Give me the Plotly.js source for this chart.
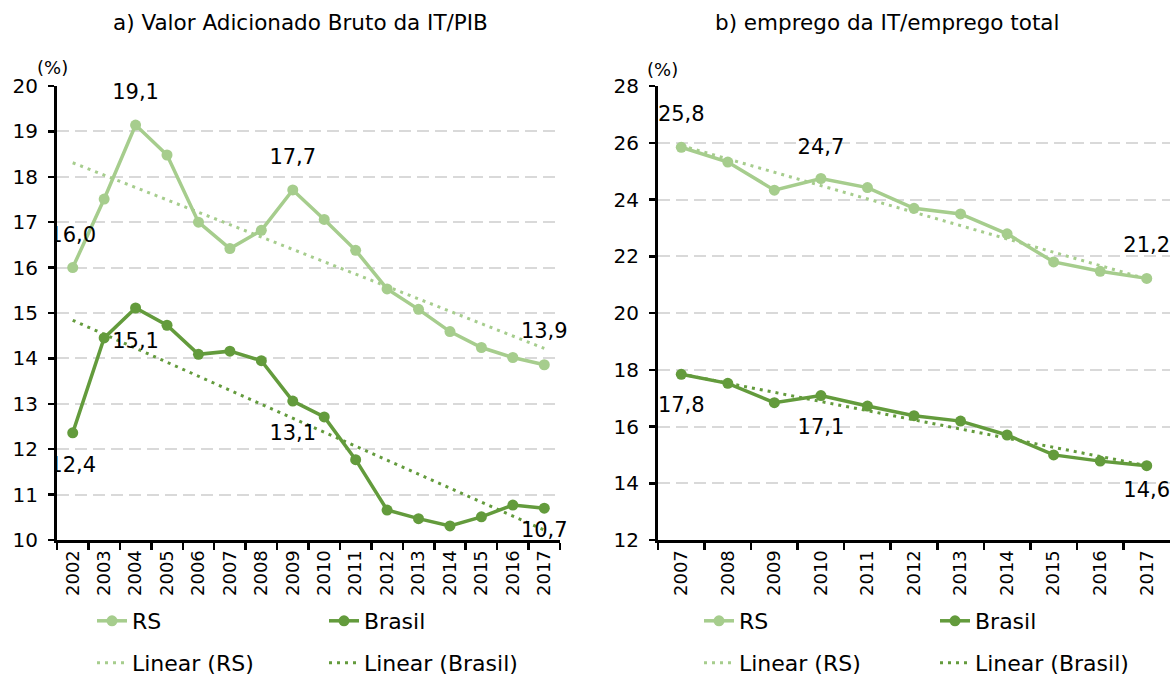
<!DOCTYPE html>
<html>
<head>
<meta charset="utf-8">
<script src="https://cdn.plot.ly/plotly-3.0.1.min.js"></script>
<style>
html,body{margin:0;padding:0;background:#fff;}
#chart{width:1172px;height:675px;}
</style>
</head>
<body>
<div id="chart"></div>
<script>
// ---------- data ----------
const yearsA = ['2002','2003','2004','2005','2006','2007','2008','2009','2010','2011','2012','2013','2014','2015','2016','2017'];
const rsA = [16.00,17.51,19.14,18.48,17.00,16.42,16.82,17.71,17.06,16.38,15.53,15.08,14.59,14.24,14.02,13.86];
const brA = [12.36,14.45,15.11,14.73,14.09,14.16,13.95,13.06,12.71,11.77,10.66,10.47,10.31,10.51,10.77,10.70];
const trendYearsA = ['2002','2017'];
const rsTrendA = [18.31,14.22];
const brTrendA = [14.84,10.22];

const yearsB = ['2007','2008','2009','2010','2011','2012','2013','2014','2015','2016','2017'];
const rsB = [25.84,25.32,24.33,24.74,24.42,23.69,23.49,22.79,21.80,21.47,21.22];
const brB = [17.84,17.52,16.84,17.09,16.72,16.38,16.19,15.70,15.00,14.78,14.62];
const trendYearsB = ['2007','2017'];
const rsTrendB = [25.90,21.20];
const brTrendB = [17.85,14.62];

// indices of labelled points (first point handled separately: clipped by the axis)
const labIdxA = [2, 7, 15];
const labIdxB = [3, 10];

// ---------- style ----------
const C_RS = '#a6cd8d';
const C_BR = '#639b3c';
const FONT = 'DejaVu Sans, Liberation Sans, Arial, sans-serif';
const FS = 20, FS_LAB = 21, FS_TITLE = 21.5, FS_LEG = 22;
const W = 1172, H = 675;
function px(x) { return x / W; }
function py(y) { return 1 - y / H; }

// plot geometry (pixels)
const A_L = 57, A_R = 560, B_L = 658, B_R = 1170, P_T = 86, P_B = 540;
const rangeA = [10, 20], rangeB = [12, 28];
const unitA = (rangeA[1] - rangeA[0]) / (P_B - P_T); // data units per px
const unitB = (rangeB[1] - rangeB[0]) / (P_B - P_T);

function fmt(v) { return v.toFixed(1).replace('.', ','); }

function line(x, y, name, color, xa, ya, leg) {
  return {x: x, y: y, name: name, type: 'scatter', mode: 'lines+markers',
    xaxis: xa, yaxis: ya, legend: leg, cliponaxis: false,
    line: {color: color, width: 3.5}, marker: {color: color, size: 11},
    hoverinfo: 'x+y'};
}
function trend(x, y, name, color, xa, ya, leg) {
  return {x: x, y: y, name: name, type: 'scatter', mode: 'lines',
    xaxis: xa, yaxis: ya, legend: leg, cliponaxis: false,
    line: {color: color, width: 3, dash: '3px,5px'}, hoverinfo: 'skip'};
}
// data label trace: pixel offsets converted through the axis scale
function labels(years, vals, idxs, dyPx, unit, xa, ya, clip) {
  return {x: idxs.map(function (i) { return years[i]; }),
    y: idxs.map(function (i, k) { return vals[i] + dyPx[k] * unit; }),
    text: idxs.map(function (i) { return fmt(vals[i]); }),
    type: 'scatter', mode: 'text', textposition: 'middle center',
    textfont: {size: FS_LAB, color: '#000', family: FONT},
    xaxis: xa, yaxis: ya, showlegend: false, hoverinfo: 'skip', cliponaxis: clip};
}

const traces = [
  trend(trendYearsA, rsTrendA, 'Linear (RS)', C_RS, 'x', 'y', 'legend3'),
  trend(trendYearsA, brTrendA, 'Linear (Brasil)', C_BR, 'x', 'y', 'legend4'),
  line(yearsA, rsA, 'RS', C_RS, 'x', 'y', 'legend'),
  line(yearsA, brA, 'Brasil', C_BR, 'x', 'y', 'legend2'),
  trend(trendYearsB, rsTrendB, 'Linear (RS)', C_RS, 'x2', 'y2', 'legend7'),
  trend(trendYearsB, brTrendB, 'Linear (Brasil)', C_BR, 'x2', 'y2', 'legend8'),
  line(yearsB, rsB, 'RS', C_RS, 'x2', 'y2', 'legend5'),
  line(yearsB, brB, 'Brasil', C_BR, 'x2', 'y2', 'legend6'),
  labels(yearsA, rsA, labIdxA, [31, 31, 32], unitA, 'x', 'y', false),
  labels(yearsA, brA, labIdxA, [-35, -34, -24], unitA, 'x', 'y', false),
  labels(yearsB, rsB, labIdxB, [30, 32], unitB, 'x2', 'y2', false),
  labels(yearsB, brB, labIdxB, [-33, -26], unitB, 'x2', 'y2', false),
  // first-point labels on overlay subplots that clip at the value axis, as in the original
  labels(yearsA, rsA, [0], [31], unitA, 'x3', 'y3', true),
  labels(yearsA, brA, [0], [-34], unitA, 'x3', 'y3', true),
  labels(yearsB, rsB, [0], [32], unitB, 'x4', 'y4', true),
  labels(yearsB, brB, [0], [-32], unitB, 'x4', 'y4', true)
];

const annotations = [];
annotations.push({xref: 'paper', yref: 'paper', x: px(300), y: py(23), text: 'a) Valor Adicionado Bruto da IT/PIB',
  showarrow: false, xanchor: 'center', yanchor: 'middle', font: {size: FS_TITLE, color: '#000', family: FONT}});
annotations.push({xref: 'paper', yref: 'paper', x: px(887), y: py(23), text: 'b) emprego da IT/emprego total',
  showarrow: false, xanchor: 'center', yanchor: 'middle', font: {size: FS_TITLE, color: '#000', family: FONT}});
annotations.push({xref: 'paper', yref: 'paper', x: px(52), y: py(67), text: '(%)',
  showarrow: false, xanchor: 'center', yanchor: 'middle', font: {size: 18, color: '#000', family: FONT}});
annotations.push({xref: 'paper', yref: 'paper', x: px(662), y: py(69), text: '(%)',
  showarrow: false, xanchor: 'center', yanchor: 'middle', font: {size: 18, color: '#000', family: FONT}});

const xCommon = {type: 'category', categoryorder: 'array', tickson: 'boundaries', ticks: 'outside',
  ticklen: 7, tickwidth: 2.5, tickcolor: '#000', showline: true, linecolor: '#000', linewidth: 3,
  tickangle: -90, tickfont: {size: 18, color: '#000', family: FONT}, showgrid: false, zeroline: false,
  automargin: false, fixedrange: true};
const yCommon = {ticks: 'outside', ticklen: 6, tickwidth: 2.5, tickcolor: '#000', showline: true,
  linecolor: '#000', linewidth: 3, tickfont: {size: FS, color: '#000', family: FONT}, ticklabelstandoff: 6,
  showgrid: true, gridcolor: '#d9d9d9', gridwidth: 2, griddash: '12px,6px', zeroline: false,
  automargin: false, fixedrange: true};
const hidden = {visible: false, showgrid: false, zeroline: false, fixedrange: true, automargin: false};

const ydom = [py(P_B), py(P_T)];
const legCommon = {orientation: 'h', xanchor: 'left', yanchor: 'middle',
  font: {size: FS_LEG, color: '#000', family: FONT}, bgcolor: 'rgba(0,0,0,0)',
  itemclick: false, itemdoubleclick: false};
function leg(x, y) { return Object.assign({}, legCommon, {x: px(x), y: py(y)}); }

const ROW1 = 621, ROW2 = 663;
const LA1 = 92, LA2 = 324, LB1 = 699, LB2 = 935;
const layout = {
  width: W, height: H,
  margin: {l: 0, r: 0, t: 0, b: 0, autoexpand: false},
  paper_bgcolor: '#fff', plot_bgcolor: '#fff',
  font: {family: FONT, color: '#000', size: FS},
  showlegend: true,
  xaxis: Object.assign({}, xCommon, {domain: [px(A_L), px(A_R)], anchor: 'y', categoryarray: yearsA, range: [-0.5, yearsA.length - 0.5]}),
  yaxis: Object.assign({}, yCommon, {domain: ydom, anchor: 'x', range: rangeA, dtick: 1, tick0: 10}),
  xaxis2: Object.assign({}, xCommon, {domain: [px(B_L), px(B_R)], anchor: 'y2', categoryarray: yearsB, range: [-0.5, yearsB.length - 0.5]}),
  yaxis2: Object.assign({}, yCommon, {domain: ydom, anchor: 'x2', range: rangeB, dtick: 2, tick0: 12}),
  xaxis3: Object.assign({}, hidden, {type: 'category', categoryorder: 'array', categoryarray: yearsA, overlaying: 'x', anchor: 'y3', range: [-0.5, yearsA.length - 0.5]}),
  yaxis3: Object.assign({}, hidden, {overlaying: 'y', anchor: 'x3', range: rangeA}),
  xaxis4: Object.assign({}, hidden, {type: 'category', categoryorder: 'array', categoryarray: yearsB, overlaying: 'x2', anchor: 'y4', range: [-0.5, yearsB.length - 0.5]}),
  yaxis4: Object.assign({}, hidden, {overlaying: 'y2', anchor: 'x4', range: rangeB}),
  legend: leg(LA1, ROW1), legend2: leg(LA2, ROW1),
  legend3: leg(LA1, ROW2), legend4: leg(LA2, ROW2),
  legend5: leg(LB1, ROW1), legend6: leg(LB2, ROW1),
  legend7: leg(LB1, ROW2), legend8: leg(LB2, ROW2),
  annotations: annotations
};

Plotly.newPlot('chart', traces, layout, {displayModeBar: false, staticPlot: true});
</script>
</body>
</html>
